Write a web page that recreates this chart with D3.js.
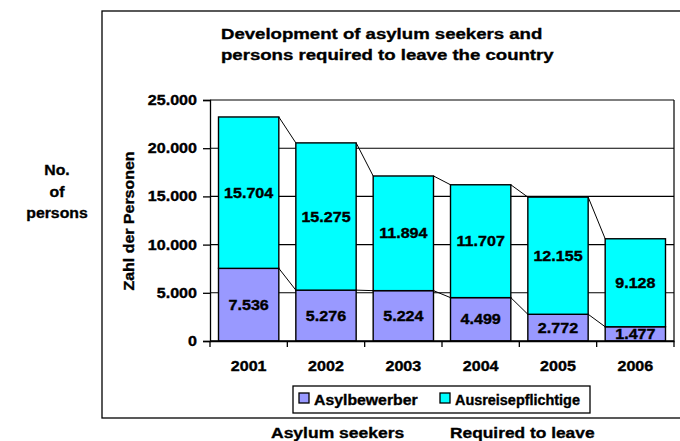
<!DOCTYPE html>
<head>
    <title>Asylum seekers chart</title>
    <meta charset="utf-8">
    <style>
        body { margin: 0; background: #fff; }
        text { font-family: "Liberation Sans", Arial, sans-serif; font-weight: bold; fill: #000;
               stroke: #000; stroke-width: 0.35px; }
    </style>
</head>
<body>
<div id="graph"></div>
</body>

<script src="https://d3js.org/d3.v7.min.js"></script>
<script>

    // data
    var years = ["2001", "2002", "2003", "2004", "2005", "2006"];
    var asylbewerber = [7536, 5276, 5224, 4499, 2772, 1477];
    var ausreisepflichtige = [15704, 15275, 11894, 11707, 12155, 9128];
    var yTicks = [0, 5000, 10000, 15000, 20000, 25000];
    var seriesNames = ["Asylbewerber", "Ausreisepflichtige"];
    var seriesColors = ["#9999ff", "#00ffff"];

    var W = 680, H = 441;
    var plot = {left: 210, right: 674, top: 100, bottom: 341};
    var SX = 1.15; // the chart's font runs wider than Arial

    var svg = d3.select("#graph").append("svg")
        .attr("width", W)
        .attr("height", H);

    var de = d3.formatLocale({decimal: ",", thousands: ".", grouping: [3], currency: ["", "€"]});
    var fmt = de.format(",");

    // helper: text stretched along its own direction
    function label(g, str, x, y, size, anchor, rot, sx) {
        var t = "translate(" + x + "," + y + ")";
        if (rot) t += " rotate(" + rot + ")";
        t += " scale(" + (sx || SX) + ",1)";
        return g.append("text")
            .attr("transform", t)
            .attr("font-size", size)
            .attr("text-anchor", anchor || "start")
            .text(str);
    }

    // outer frame
    svg.append("rect")
        .attr("x", 102).attr("y", 11)
        .attr("width", 600).attr("height", 407)
        .attr("fill", "none").attr("stroke", "#000").attr("stroke-width", 1.3);

    var xScale = d3.scaleBand()
        .domain(years)
        .range([plot.left, plot.right])
        .paddingInner(0.22)
        .paddingOuter(0.11);

    var yScale = d3.scaleLinear()
        .domain([0, 25000])
        .range([plot.bottom, plot.top]);

    // gridlines
    svg.append("g")
        .selectAll("line")
        .data(yTicks.slice(1))
        .join("line")
        .attr("x1", plot.left).attr("x2", plot.right)
        .attr("y1", function(d) { return yScale(d); })
        .attr("y2", function(d) { return yScale(d); })
        .attr("stroke", "#000").attr("stroke-width", 1.1);

    svg.append("line")
        .attr("x1", plot.right).attr("x2", plot.right)
        .attr("y1", plot.top).attr("y2", plot.bottom)
        .attr("stroke", "#000").attr("stroke-width", 1.2);

    // y axis
    var yAxis = svg.append("g")
        .attr("transform", "translate(" + plot.left + ",0)")
        .call(d3.axisLeft(yScale).tickValues(yTicks).tickSize(7).tickPadding(6).tickFormat(fmt));
    yAxis.select(".domain").attr("stroke", "#000").attr("stroke-width", 1.3);
    yAxis.selectAll(".tick line").attr("stroke", "#000").attr("stroke-width", 1.3);
    yAxis.selectAll(".tick text").remove();
    yTicks.forEach(function(v) {
        label(svg, fmt(v), 197, yScale(v) + 5, 14, "end");
    });

    // x axis: ticks at category boundaries
    var xAxis = svg.append("g")
        .attr("transform", "translate(0," + plot.bottom + ")")
        .call(d3.axisBottom(xScale).tickSize(0).tickFormat(""));
    xAxis.select(".domain").attr("stroke", "#000").attr("stroke-width", 1.3);
    var step = xScale.step();
    var bounds = d3.range(years.length + 1).map(function(i) { return plot.left + i * step; });
    svg.append("g").selectAll("line")
        .data(bounds)
        .join("line")
        .attr("x1", function(d) { return d; }).attr("x2", function(d) { return d; })
        .attr("y1", plot.bottom).attr("y2", plot.bottom + 6)
        .attr("stroke", "#000").attr("stroke-width", 1.3);
    years.forEach(function(y) {
        label(svg, y, xScale(y) + xScale.bandwidth() / 2, 371, 14, "middle");
    });

    // stacked bars
    var rows = years.map(function(y, i) {
        return {year: y, Asylbewerber: asylbewerber[i], Ausreisepflichtige: ausreisepflichtige[i]};
    });
    var stack = d3.stack().keys(seriesNames)(rows);

    // connector lines between bar tops
    stack.forEach(function(layer) {
        var segs = d3.range(layer.length - 1).map(function(i) {
            return [[xScale(years[i]) + xScale.bandwidth(), yScale(layer[i][1])],
                    [xScale(years[i + 1]), yScale(layer[i + 1][1])]];
        });
        svg.append("g").selectAll("line")
            .data(segs)
            .join("line")
            .attr("x1", function(d) { return d[0][0]; }).attr("y1", function(d) { return d[0][1]; })
            .attr("x2", function(d) { return d[1][0]; }).attr("y2", function(d) { return d[1][1]; })
            .attr("stroke", "#000").attr("stroke-width", 1);
    });

    stack.forEach(function(layer, k) {
        svg.append("g").selectAll("rect")
            .data(layer)
            .join("rect")
            .attr("x", function(d) { return xScale(d.data.year); })
            .attr("width", xScale.bandwidth())
            .attr("y", function(d) { return yScale(d[1]); })
            .attr("height", function(d) { return yScale(d[0]) - yScale(d[1]); })
            .attr("fill", seriesColors[k])
            .attr("stroke", "#000").attr("stroke-width", 1.4);
    });

    // value labels, clipped to the plot area
    svg.append("clipPath").attr("id", "plotclip")
        .append("rect")
        .attr("x", plot.left).attr("y", plot.top)
        .attr("width", plot.right - plot.left).attr("height", plot.bottom - plot.top);
    var vals = svg.append("g").attr("clip-path", "url(#plotclip)");
    stack.forEach(function(layer) {
        layer.forEach(function(d) {
            var cy = (yScale(d[0]) + yScale(d[1])) / 2;
            label(vals, fmt(d[1] - d[0]), xScale(d.data.year) + xScale.bandwidth() / 2, cy + 5, 14, "middle");
        });
    });
    svg.append("line")
        .attr("x1", plot.left).attr("x2", plot.right)
        .attr("y1", plot.bottom).attr("y2", plot.bottom)
        .attr("stroke", "#000").attr("stroke-width", 1.3);

    // titles
    label(svg, "Development of asylum seekers and", 221, 39, 15.5, "start", 0, 1.2);
    label(svg, "persons required to leave the country", 221, 60, 15.5, "start", 0, 1.2);
    label(svg, "Zahl der Personen", 134, 221, 14, "middle", -90, 1.14);

    // legend
    var lg = svg.append("g");
    lg.append("rect")
        .attr("x", 293).attr("y", 386).attr("width", 297).attr("height", 27)
        .attr("fill", "#fff").attr("stroke", "#000").attr("stroke-width", 1.3);
    var legendX = [299, 440];
    var legendSX = [1.13, 1.03];
    seriesNames.forEach(function(name, k) {
        lg.append("rect")
            .attr("x", legendX[k]).attr("y", 393).attr("width", 10).attr("height", 10)
            .attr("fill", seriesColors[k]).attr("stroke", "#000").attr("stroke-width", 1.3);
        label(lg, name, legendX[k] + 15, 405, 14, "start", 0, legendSX[k]);
    });

    // English annotations
    label(svg, "No.", 57, 175, 15.5, "middle", 0, 1.02);
    label(svg, "of", 57, 197, 15.5, "middle", 0, 1.02);
    label(svg, "persons", 57, 218, 15.5, "middle", 0, 1.02);
    label(svg, "Asylum seekers", 271, 438, 15.5, "start", 0, 1.13);
    label(svg, "Required to leave", 450, 438, 15.5, "start", 0, 1.12);

</script>
